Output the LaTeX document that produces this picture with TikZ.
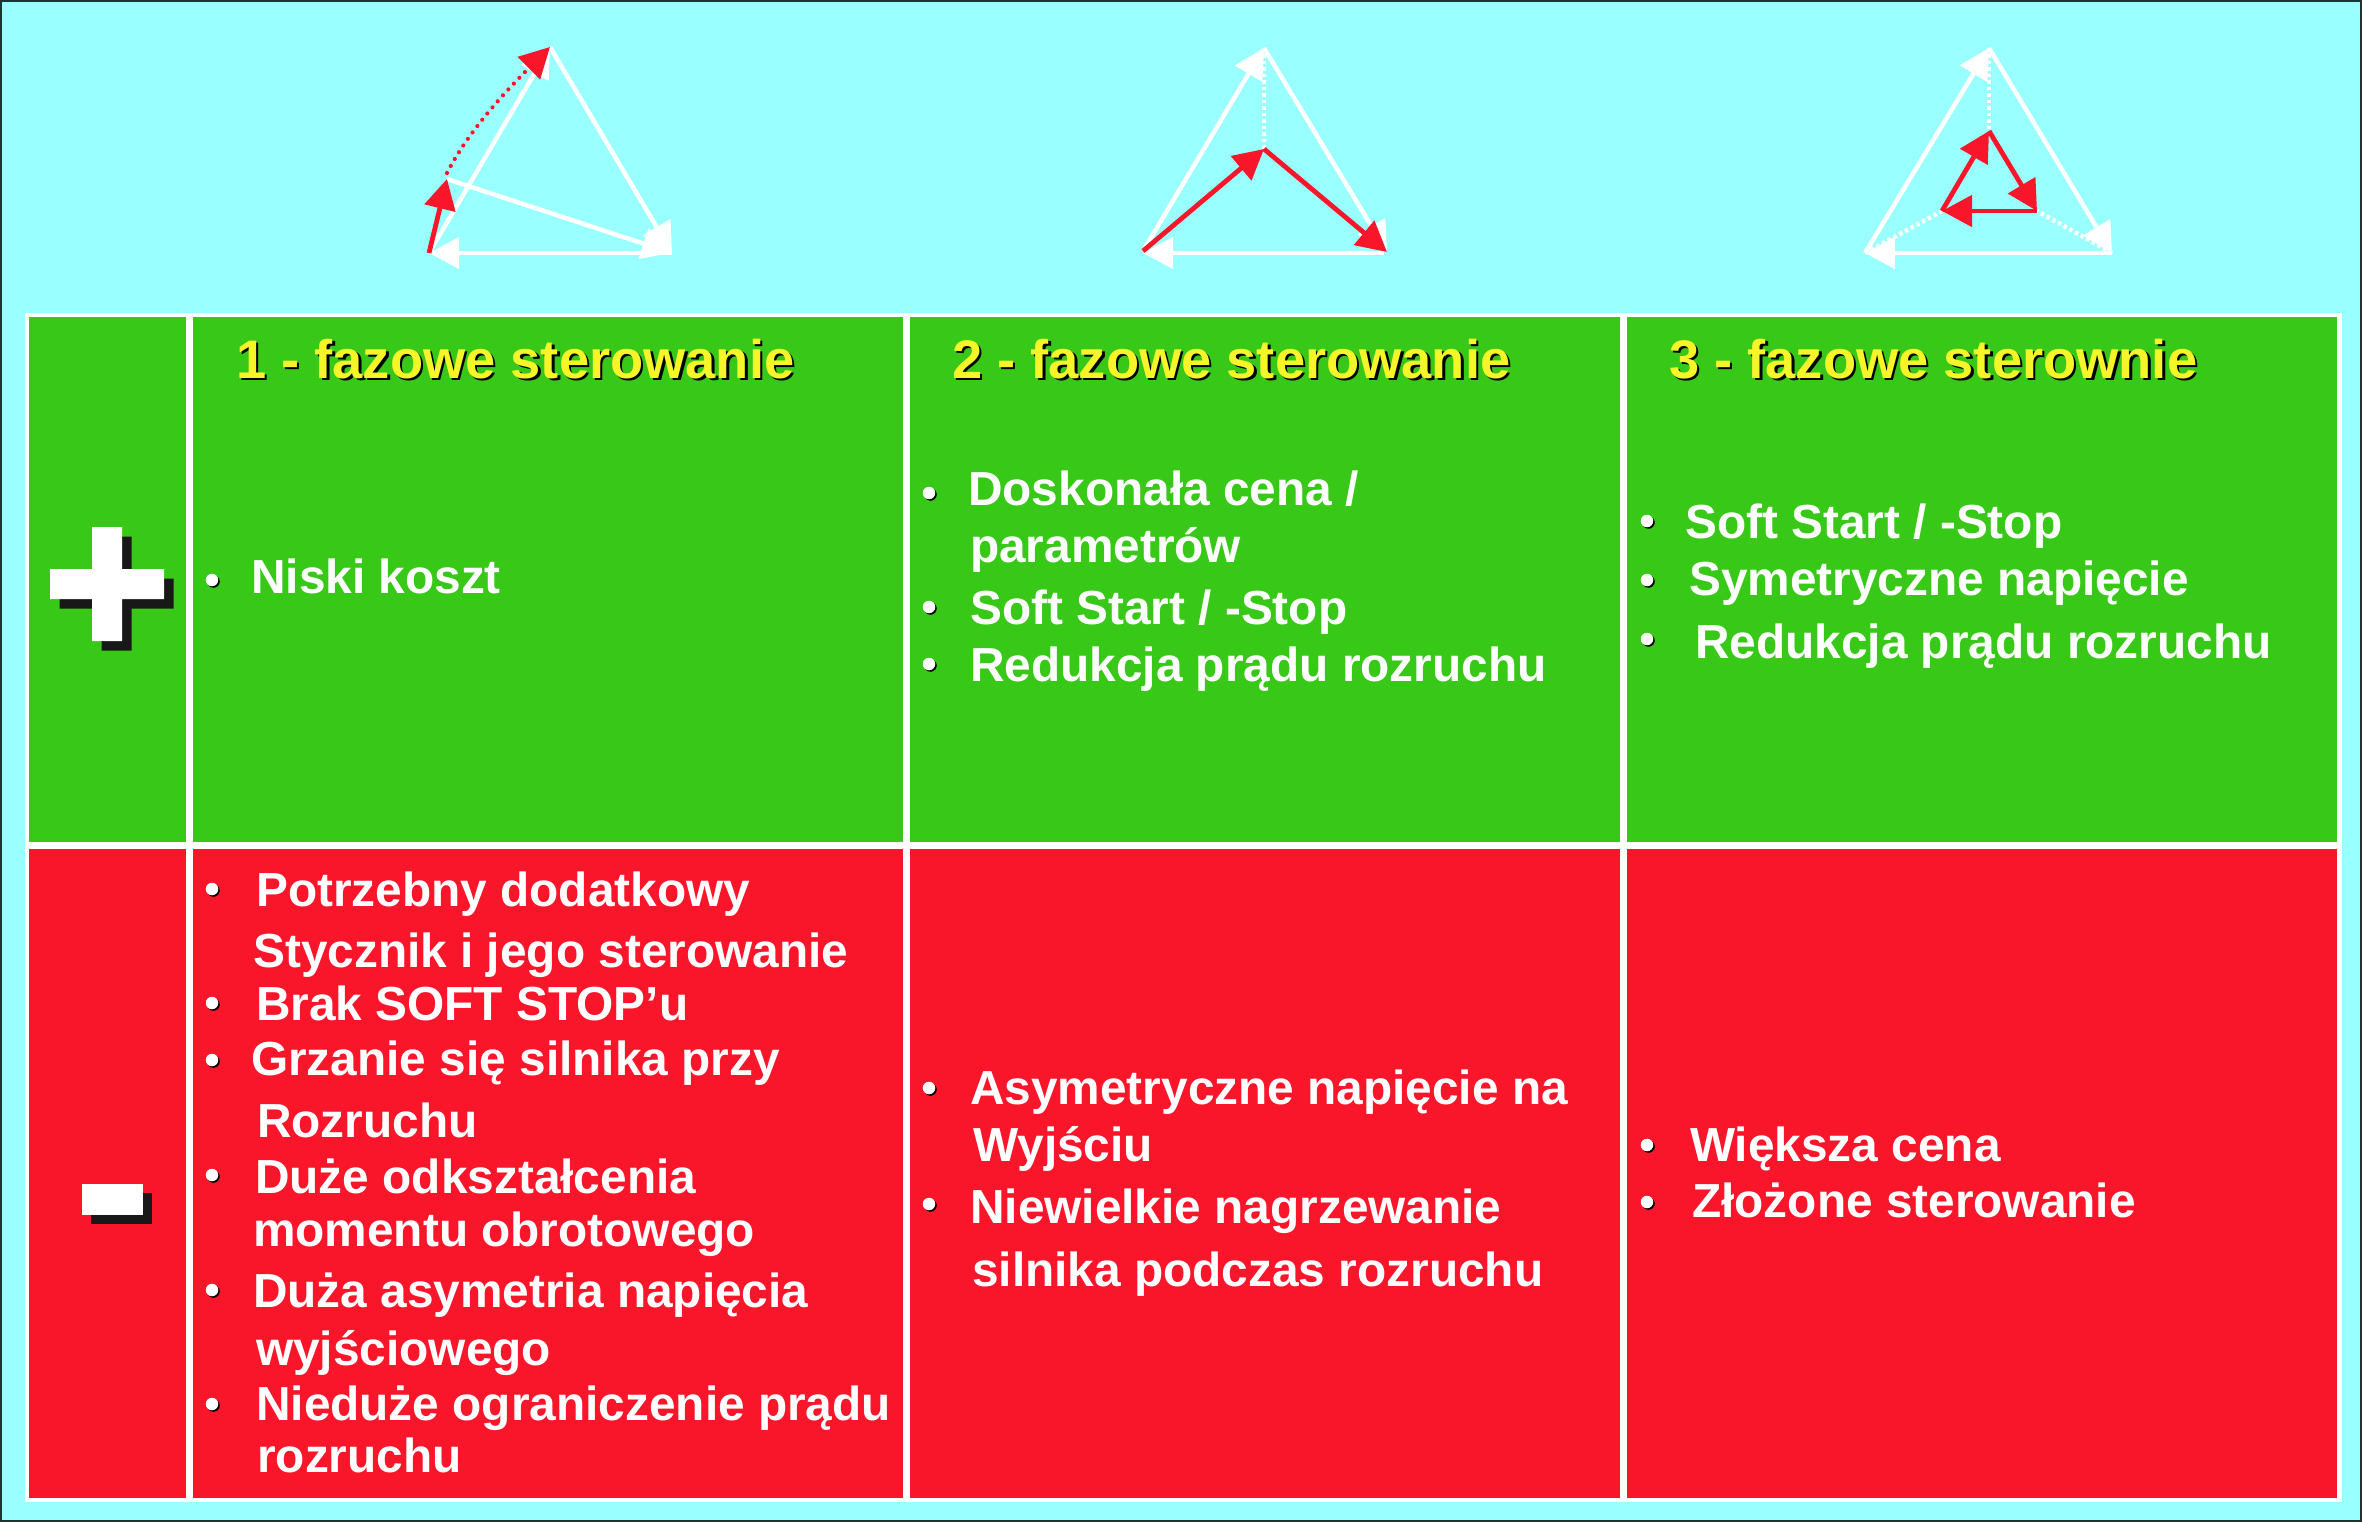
\documentclass[tikz,border=0pt]{standalone}
\usepackage{fontspec}
\setmainfont{Liberation Sans}
\usetikzlibrary{arrows.meta,shadows}
\definecolor{bgc}{RGB}{153,255,255}
\definecolor{grn}{RGB}{56,200,24}
\definecolor{rdc}{RGB}{249,22,42}
\definecolor{ylw}{RGB}{245,245,42}
\definecolor{shd}{RGB}{24,24,24}
\newcommand{\ttl}[1]{\rlap{\color{black}\hspace{2.5pt}\raisebox{-2.5pt}{#1}}#1}
\tikzset{
  x=1pt,y=-1pt,
  whitearr/.style={draw=white,line width=4.5pt,-{Triangle[length=30pt,width=31pt,fill=white]}},
  redarr/.style={draw=rdc,line width=4.8pt,-{Triangle[length=30pt,width=31pt,fill=rdc]}},
  whitedots/.style={draw=white,line width=4.5pt,dash pattern=on 3.5pt off 3pt},
  reddots/.style={draw=rdc,line width=4.2pt,line cap=round,dash pattern=on 0pt off 8pt},
  body/.style={anchor=base west,inner sep=0pt,text=white,font=\fontsize{47.8}{50}\selectfont\bfseries},
  title/.style={anchor=base west,inner sep=0pt,text=ylw,font=\fontsize{54.3}{60}\selectfont\bfseries},
  bull/.style={circle,fill=white,minimum size=12.5pt,inner sep=0pt,
    general shadow={fill=black,shadow xshift=1.5pt,shadow yshift=-1.5pt}},
}
\begin{document}
\begin{tikzpicture}
\useasboundingbox (0,0) rectangle (2362,1522);
\fill[bgc!20!black] (0,0) rectangle (2362,1522);
\fill[bgc] (2,2) rectangle (2360,1520);
% table
\fill[white] (25,313) rectangle (2342,1502);
\fill[grn] (29,317) rectangle (186,842);
\fill[grn] (193,317) rectangle (903,842);
\fill[grn] (910,317) rectangle (1620,842);
\fill[grn] (1627,317) rectangle (2337,842);
\fill[rdc] (29,849) rectangle (186,1498);
\fill[rdc] (193,849) rectangle (903,1498);
\fill[rdc] (910,849) rectangle (1620,1498);
\fill[rdc] (1627,849) rectangle (2337,1498);
% plus
\begin{scope}[shift={(9.5,9.5)}]
\fill[shd] (92,527) -- (122,527) -- (122,569) -- (164,569) -- (164,599) -- (122,599) -- (122,641) -- (92,641) -- (92,599) -- (50,599) -- (50,569) -- (92,569) -- cycle;
\end{scope}
\fill[white] (92,527) -- (122,527) -- (122,569) -- (164,569) -- (164,599) -- (122,599) -- (122,641) -- (92,641) -- (92,599) -- (50,599) -- (50,569) -- (92,569) -- cycle;
% minus
\fill[shd] (91,1193) rectangle (152,1224);
\fill[white] (82,1184) rectangle (143,1215);
% triangle 1
\coordinate (aA) at (550,47); \coordinate (aL) at (429,253); \coordinate (aR) at (672,253);
\coordinate (aM) at (447,179); \coordinate (aS) at (447,173);
\draw[whitearr] (aL) -- (aA);
\draw[whitearr] (aA) -- (aR);
\draw[whitearr] (aR) -- (aL);
\draw[whitearr] (aM) -- (aR);
\draw[redarr] (aL) -- (aM);
\draw[reddots,-{Triangle[length=30pt,width=31pt,fill=rdc]}] (aS) .. controls (466,136) and (497,100) .. (aA);
% triangle 2
\coordinate (bA) at (1264,48); \coordinate (bL) at (1143,251); \coordinate (bR) at (1387,252);
\coordinate (bC) at (1264,149); \coordinate (bW) at (1143,253); \coordinate (bE) at (1384,253);
\draw[whitedots] (bA) -- (bC);
\draw[whitearr] (bL) -- (bA);
\draw[whitearr] (bA) -- (bR);
\draw[whitearr] (bE) -- (bW);
\draw[redarr] (bL) -- (bC);
\draw[redarr] (bC) -- (bR);
% triangle 3
\coordinate (cA) at (1989,48); \coordinate (cL) at (1865,253); \coordinate (cR) at (2112,253);
\coordinate (cT) at (1989,131); \coordinate (cQ) at (2037,211); \coordinate (cP) at (1942,211);
\draw[whitedots] (cA) -- (cT);
\draw[whitedots] (cL) -- (cP);
\draw[whitedots] (cR) -- (cQ);
\draw[whitearr] (cL) -- (cA);
\draw[whitearr] (cA) -- (cR);
\draw[whitearr] (cR) -- (cL);
\draw[redarr] (cP) -- (cT);
\draw[redarr] (cT) -- (cQ);
\draw[redarr] (cQ) -- (cP);
% titles
\node[title] (t1) at (236,378) {\ttl{1 - fazowe sterowanie}};
\node[title] (t2) at (952,378) {\ttl{2 - fazowe sterowanie}};
\node[title] (t3) at (1669,378) {\ttl{3 - fazowe sterownie}};
% col 1 plus
\node[bull] (b01) at (212,580) {};
\node[body] (l01) at (251,593) {Niski koszt};
% col 2 plus
\node[bull] (b02) at (929,493) {};
\node[bull] (b03) at (929,607) {};
\node[bull] (b04) at (929,664) {};
\node[body] (l02) at (968,505) {Doskonała cena /};
\node[body] (l03) at (970,562) {parametrów};
\node[body] (l04) at (970,624) {Soft Start / -Stop};
\node[body] (l05) at (970,681) {Redukcja prądu rozruchu};
% col 3 plus
\node[bull] (b05) at (1647,521) {};
\node[bull] (b06) at (1647,580) {};
\node[bull] (b07) at (1647,639) {};
\node[body] (l06) at (1685,538) {Soft Start / -Stop};
\node[body] (l07) at (1689,595) {Symetryczne napięcie};
\node[body] (l08) at (1695,658) {Redukcja prądu rozruchu};
% col 1 minus
\node[bull] (b08) at (212,889) {};
\node[bull] (b09) at (212,1003) {};
\node[bull] (b10) at (212,1060) {};
\node[bull] (b11) at (212,1175) {};
\node[bull] (b12) at (212,1290) {};
\node[bull] (b13) at (212,1404) {};
\node[body] (l09) at (256,906) {Potrzebny dodatkowy};
\node[body] (l10) at (253,967) {Stycznik i jego sterowanie};
\node[body] (l11) at (256,1020) {Brak SOFT STOP’u};
\node[body] (l12) at (251,1075) {Grzanie się silnika przy};
\node[body] (l13) at (257,1137) {Rozruchu};
\node[body] (l14) at (255,1193) {Duże odkształcenia};
\node[body] (l15) at (253,1246) {momentu obrotowego};
\node[body] (l16) at (253,1307) {Duża asymetria napięcia};
\node[body] (l17) at (256,1365) {wyjściowego};
\node[body] (l18) at (256,1420) {Nieduże ograniczenie prądu};
\node[body] (l19) at (257,1472) {rozruchu};
% col 2 minus
\node[bull] (b14) at (929,1088) {};
\node[bull] (b15) at (929,1204) {};
\node[body] (l20) at (970,1104) {Asymetryczne napięcie na};
\node[body] (l21) at (973,1161) {Wyjściu};
\node[body] (l22) at (970,1223) {Niewielkie nagrzewanie};
\node[body] (l23) at (972,1286) {silnika podczas rozruchu};
% col 3 minus
\node[bull] (b16) at (1647,1145) {};
\node[bull] (b17) at (1647,1202) {};
\node[body] (l24) at (1690,1161) {Większa cena};
\node[body] (l25) at (1692,1217) {Złożone sterowanie};
\end{tikzpicture}
\end{document}
